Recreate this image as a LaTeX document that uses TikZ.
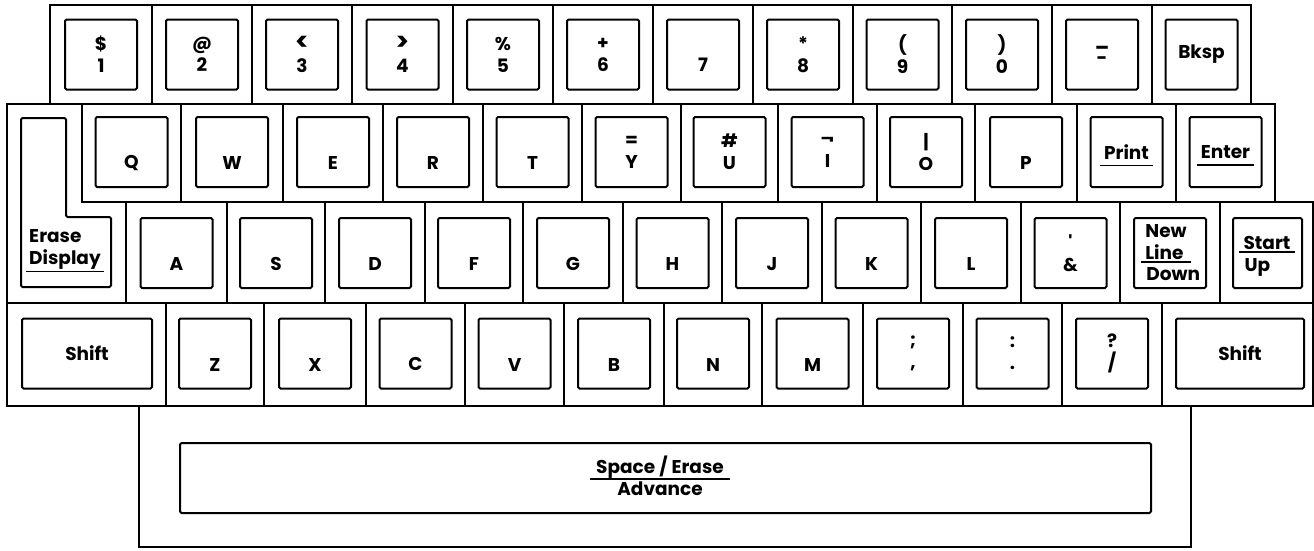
\documentclass[tikz,border=0pt]{standalone}
\usepackage{fontspec}
\setmainfont{Poppins}
\usetikzlibrary{positioning}
\newcommand{\lowlbl}[1]{\phantom{X}\\#1}
\newcommand{\bigsign}[1]{{\fontsize{25}{22}\selectfont#1}}
\tikzset{
  cell/.style={line width=2.4pt},
  keyline/.style={line width=2pt, rounded corners=1.5pt},
  key/.style={draw, keyline, minimum width=72pt, minimum height=70pt, inner sep=0pt,
    align=center, font=\fontsize{18.5}{22}\selectfont\bfseries},
  lbl/.style={font=\fontsize{18.5}{22}\selectfont\bfseries, inner sep=0pt},
  uline/.style={line width=1.6pt}
}
\begin{document}
\begin{tikzpicture}[x=1pt,y=-1pt]
	\useasboundingbox (0,0) rectangle (1314,550);
	% cells of the four rows
	\draw[cell] (50,5) rectangle (1251,104);
	\foreach \x in {152,252,352,453,553,653,753,853,952,1052,1152}
		\draw[cell] (\x,5) -- (\x,104);
	\draw[cell] (82,104) rectangle (1275,202);
	\foreach \x in {181,283,383,483,582,681,778,877,975,1077,1176}
		\draw[cell] (\x,104) -- (\x,202);
	\draw[cell] (126,202) rectangle (1313,303);
	\foreach \x in {227,325,425,523,623,722,822,921,1021,1120,1220}
		\draw[cell] (\x,202) -- (\x,303);
	\draw[cell] (7,303) rectangle (1313,406);
	\foreach \x in {166,264,366,465,564,664,762,863,963,1062,1162}
		\draw[cell] (\x,303) -- (\x,406);
	\draw[cell] (7,104) -- (82,104) -- (82,202) -- (126,202) -- (126,303) -- (7,303) -- cycle;
	\draw[cell] (139,406) rectangle (1191,547);
	% top row
	\node[key] (k1) at (101,54.5) {\$\\1};
	\node[key] (k2) at (202,54.5) {@\\2};
	\node[key] (k3) at (302,54.5) {\bigsign{<}\\3};
	\node[key] (k4) at (402.5,54.5) {\bigsign{>}\\4};
	\node[key] (k5) at (503,54.5) {\%\\5};
	\node[key] (k6) at (603,54.5) {+\\6};
	\node[key] (k7) at (703,54.5) {\lowlbl{7}};
	\node[key] (k8) at (803,54.5) {*\\8};
	\node[key] (k9) at (902.5,54.5) {(\\9};
	\node[key] (k0) at (1002,54.5) {)\\0};
	\node[key] (kminus) at (1102,54.5) {\_\\[-3pt]-};
	\node[key] (kbksp) at (1201.5,54.5) {Bksp};
	% second row
	\node[key] (kQ) at (131.5,152) {\lowlbl{Q}};
	\node[key] (kW) at (232,152) {\lowlbl{W}};
	\node[key] (kE) at (333,152) {\lowlbl{E}};
	\node[key] (kR) at (433,152) {\lowlbl{R}};
	\node[key] (kT) at (532.5,152) {\lowlbl{T}};
	\node[key] (kY) at (631.5,152) {=\\Y};
	\node[key] (kU) at (729.5,152) {\#\\U};
	\node[key] (kI) at (827.5,152) {¬\\I};
	\node[key] (kO) at (926,152) {|\\O};
	\node[key] (kP) at (1026,152) {\lowlbl{P}};
	\node[key] (kprint) at (1126.5,152) {};
	\node[key] (kenter) at (1225.5,152) {};
	\node[lbl, inner xsep=4pt, inner ysep=6pt] (tprint) at (kprint) {Print};
	\draw[uline] (tprint.south west) -- (tprint.south east);
	\node[lbl, inner xsep=4pt, inner ysep=6pt] (tenter) at (kenter) {Enter};
	\draw[uline] (tenter.south west) -- (tenter.south east);
	% erase display
	\draw[keyline] (21,118) -- (66,118) -- (66,217) -- (111,217) -- (111,287) -- (21,287) -- cycle;
	\node[lbl, align=left, inner xsep=3pt, inner ysep=2.5pt] (terase) at (65,249) {Erase\\Display};
	\draw[uline] (terase.south west) -- (terase.south east);
	% third row
	\node[key] (kA) at (176.5,253) {\lowlbl{A}};
	\node[key] (kS) at (276,253) {\lowlbl{S}};
	\node[key] (kD) at (375,253) {\lowlbl{D}};
	\node[key] (kF) at (474,253) {\lowlbl{F}};
	\node[key] (kG) at (573,253) {\lowlbl{G}};
	\node[key] (kH) at (672.5,253) {\lowlbl{H}};
	\node[key] (kJ) at (772,253) {\lowlbl{J}};
	\node[key] (kK) at (871.5,253) {\lowlbl{K}};
	\node[key] (kL) at (971,253) {\lowlbl{L}};
	\node[key] (kamp) at (1070.5,253) {\textquotesingle\\\&};
	\node[key] (knewline) at (1170,253) {};
	\node[key, minimum width=69pt] (kstart) at (1267.5,253) {};
	\node[lbl, align=left, anchor=south, inner xsep=4pt, inner ysep=2pt] (tnew) at (1166,262) {New\\Line};
	\draw[uline] (tnew.south west) -- (tnew.south east);
	\node[lbl, anchor=north west] (tdown) at ([xshift=5pt,yshift=-5pt]tnew.south west) {Down};
	\node[lbl, anchor=south, inner xsep=4pt, inner ysep=2pt] (tstart) at (1267,252) {Start};
	\draw[uline] (tstart.south west) -- (tstart.south east);
	\node[lbl, anchor=north west] (tup) at ([xshift=5pt,yshift=-6pt]tstart.south west) {Up};
	% bottom row
	\node[key, minimum width=130pt] (kshiftl) at (87,353.5) {Shift};
	\node[key] (kZ) at (215,353.5) {\lowlbl{Z}};
	\node[key] (kX) at (315,353.5) {\lowlbl{X}};
	\node[key] (kC) at (415.5,353.5) {\lowlbl{C}};
	\node[key] (kV) at (514.5,353.5) {\lowlbl{V}};
	\node[key] (kB) at (614,353.5) {\lowlbl{B}};
	\node[key] (kN) at (713,353.5) {\lowlbl{N}};
	\node[key] (kM) at (812.5,353.5) {\lowlbl{M}};
	\node[key] (ksemi) at (913,353.5) {;\\,};
	\node[key] (kcolon) at (1012.5,353.5) {:\\.};
	\node[key] (kslash) at (1112,353.5) {?\\/};
	\node[key, minimum width=128pt] (kshiftr) at (1240,353.5) {Shift};
	% space bar
	\node[key, minimum width=971pt] (kspace) at (665.5,478) {};
	\node[lbl, anchor=south, inner xsep=6pt] (tspace) at (660,479) {Space / Erase};
	\draw[uline] (tspace.south west) -- (tspace.south east);
	\node[lbl, below=3pt of tspace] (tadv) {Advance};
\end{tikzpicture}
\end{document}
